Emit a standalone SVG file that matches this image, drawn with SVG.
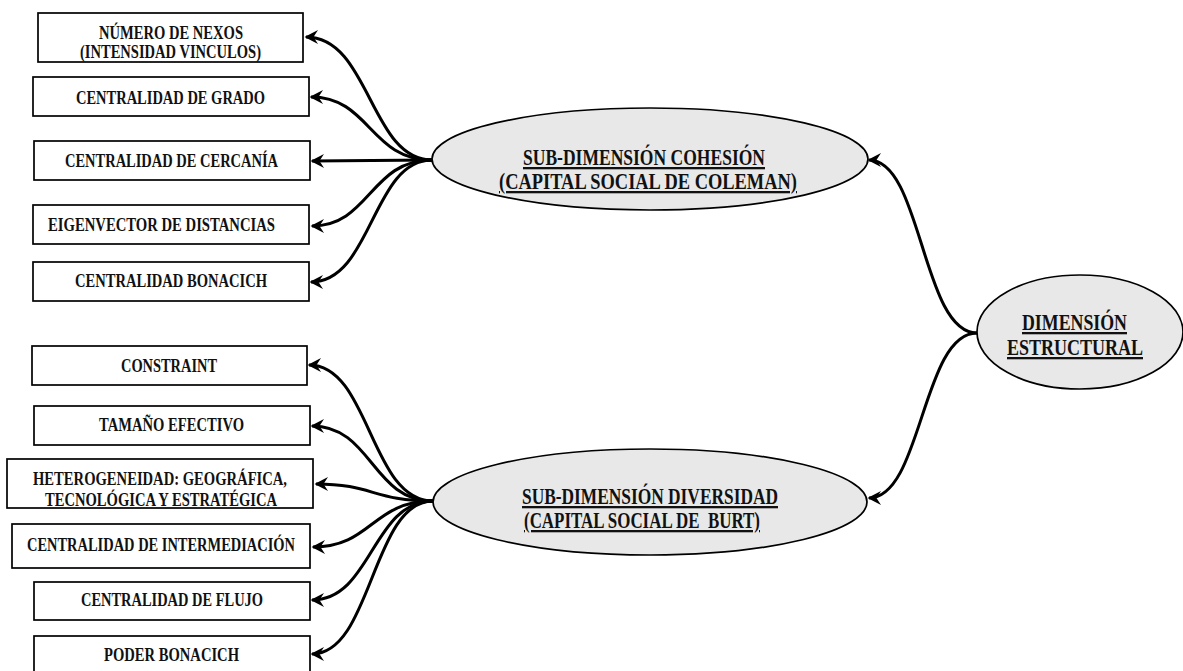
<svg xmlns="http://www.w3.org/2000/svg" width="1183" height="671" viewBox="0 0 1183 671">
  <style>
    .box { fill: #ffffff; stroke: #000000; stroke-width: 1.7; }
    .oval { fill: #e8e8e8; stroke: #000000; stroke-width: 1.7; }
    .lbl { font-family: "Liberation Serif", "Times New Roman", serif; font-weight: bold; font-size: 19.5px; fill: #111111; text-anchor: middle; }
    .head { font-family: "Liberation Serif", "Times New Roman", serif; font-weight: bold; font-size: 23px; fill: #111111; text-anchor: middle; text-decoration: underline; }
    .conn { fill: none; stroke: #000000; stroke-width: 3; marker-end: url(#arrow); }
  </style>
  <defs>
    <marker id="arrow" markerUnits="userSpaceOnUse" markerWidth="18" markerHeight="18" viewBox="-15 -9 18 18" refX="0" refY="0" orient="auto">
      <path d="M1.5,0 L-12,-7 L-7.5,0 L-12,7 Z" fill="#000000"/>
    </marker>
  </defs>

  <rect width="1183" height="671" fill="#ffffff"/>

  <!-- connectors -->
  <g id="connectors">
    <!-- cohesion fan -->
    <path class="conn" d="M432,160 C370,160 370,37 306,37"/>
    <path class="conn" d="M432,160 C370,160 370,97 311,97"/>
    <path class="conn" d="M432,160 L312,161"/>
    <path class="conn" d="M432,160 C370,160 370,226 312,226"/>
    <path class="conn" d="M432,160 C372,160 372,282 311,282"/>
    <!-- diversity fan -->
    <path class="conn" d="M433,501 C370,501 370,365 309,365"/>
    <path class="conn" d="M433,501 C372,501 372,426 312,426"/>
    <path class="conn" d="M433,501 C373,501 373,484 316,484"/>
    <path class="conn" d="M433,501 C372,501 372,547 313,547"/>
    <path class="conn" d="M433,501 C372,501 372,600 312,600"/>
    <path class="conn" d="M433,501 C372,501 372,654 312,654"/>
    <!-- structural dimension to sub-dimensions -->
    <path class="conn" d="M977,333 C922,333 922,160 869,160"/>
    <path class="conn" d="M977,333 C922,333 922,498 869,498"/>
  </g>

  <!-- cohesion indicators -->
  <g id="numero-nexos">
    <rect class="box" x="38" y="13" width="265" height="49"/>
    <text class="lbl" x="171" y="39" textLength="144" lengthAdjust="spacingAndGlyphs">NÚMERO DE NEXOS</text>
    <text class="lbl" x="170.5" y="58" textLength="181" lengthAdjust="spacingAndGlyphs">(INTENSIDAD VINCULOS)</text>
  </g>
  <g id="centralidad-grado">
    <rect class="box" x="33" y="77" width="276" height="39"/>
    <text class="lbl" x="170.5" y="104" textLength="189" lengthAdjust="spacingAndGlyphs">CENTRALIDAD DE GRADO</text>
  </g>
  <g id="centralidad-cercania">
    <rect class="box" x="34" y="141" width="276" height="39"/>
    <text class="lbl" x="171.5" y="167" textLength="213" lengthAdjust="spacingAndGlyphs">CENTRALIDAD DE CERCANÍA</text>
  </g>
  <g id="eigenvector">
    <rect class="box" x="33" y="205" width="276" height="39"/>
    <text class="lbl" x="161.5" y="231" textLength="227" lengthAdjust="spacingAndGlyphs">EIGENVECTOR DE DISTANCIAS</text>
  </g>
  <g id="centralidad-bonacich">
    <rect class="box" x="33" y="262" width="276" height="39"/>
    <text class="lbl" x="171" y="287" textLength="192" lengthAdjust="spacingAndGlyphs">CENTRALIDAD BONACICH</text>
  </g>

  <!-- diversity indicators -->
  <g id="constraint">
    <rect class="box" x="32" y="346" width="275" height="39"/>
    <text class="lbl" x="169" y="372" textLength="96" lengthAdjust="spacingAndGlyphs">CONSTRAINT</text>
  </g>
  <g id="tamano-efectivo">
    <rect class="box" x="34" y="406" width="276" height="39"/>
    <text class="lbl" x="171.5" y="431" textLength="145" lengthAdjust="spacingAndGlyphs">TAMAÑO EFECTIVO</text>
  </g>
  <g id="heterogeneidad">
    <rect class="box" x="7" y="459" width="306" height="49"/>
    <text class="lbl" x="160" y="485" textLength="254" lengthAdjust="spacingAndGlyphs">HETEROGENEIDAD: GEOGRÁFICA,</text>
    <text class="lbl" x="161" y="506" textLength="232" lengthAdjust="spacingAndGlyphs">TECNOLÓGICA Y ESTRATÉGICA</text>
  </g>
  <g id="centralidad-intermediacion">
    <rect class="box" x="12" y="524" width="298" height="44"/>
    <text class="lbl" x="161" y="551" textLength="268" lengthAdjust="spacingAndGlyphs">CENTRALIDAD DE INTERMEDIACIÓN</text>
  </g>
  <g id="centralidad-flujo">
    <rect class="box" x="34" y="582" width="276" height="38"/>
    <text class="lbl" x="172" y="606" textLength="182" lengthAdjust="spacingAndGlyphs">CENTRALIDAD DE FLUJO</text>
  </g>
  <g id="poder-bonacich">
    <rect class="box" x="34" y="636" width="276" height="44"/>
    <text class="lbl" x="171.5" y="661" textLength="135" lengthAdjust="spacingAndGlyphs">PODER BONACICH</text>
  </g>

  <!-- sub-dimensions -->
  <g id="sub-cohesion">
    <ellipse class="oval" cx="650" cy="159" rx="218" ry="51"/>
    <text class="head" x="644" y="165" textLength="242" lengthAdjust="spacingAndGlyphs">SUB-DIMENSIÓN COHESIÓN</text>
    <text class="head" x="648" y="189" textLength="298" lengthAdjust="spacingAndGlyphs">(CAPITAL SOCIAL DE COLEMAN)</text>
  </g>
  <g id="sub-diversidad">
    <ellipse class="oval" cx="650" cy="502" rx="217" ry="53"/>
    <text class="head" x="650" y="504" textLength="256" lengthAdjust="spacingAndGlyphs">SUB-DIMENSIÓN DIVERSIDAD</text>
    <text class="head" x="642" y="528" textLength="236" lengthAdjust="spacingAndGlyphs" xml:space="preserve">(CAPITAL SOCIAL DE  BURT)</text>
  </g>

  <!-- main dimension -->
  <g id="dimension-estructural">
    <ellipse class="oval" cx="1080" cy="332" rx="103" ry="57"/>
    <text class="head" x="1074.5" y="330" textLength="105" lengthAdjust="spacingAndGlyphs">DIMENSIÓN</text>
    <text class="head" x="1075" y="355" textLength="136" lengthAdjust="spacingAndGlyphs">ESTRUCTURAL</text>
  </g>
</svg>
